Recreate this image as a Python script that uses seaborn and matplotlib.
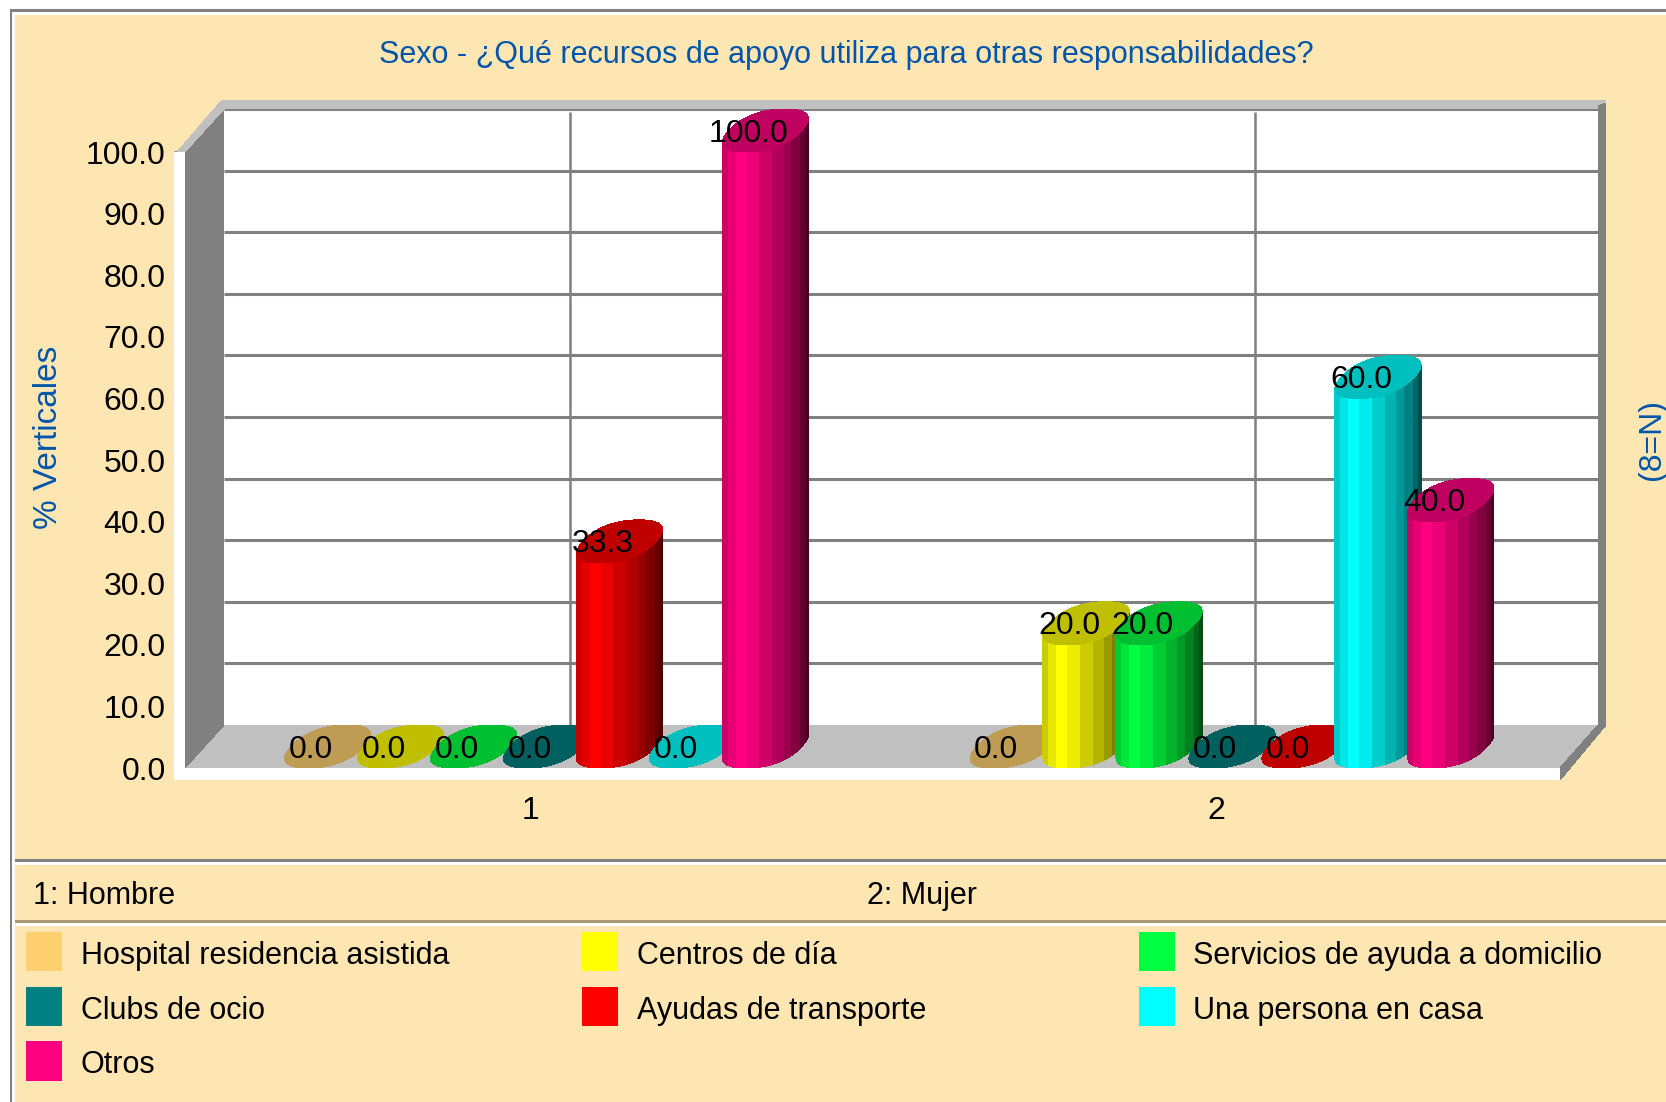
import numpy as np
import pandas as pd
import matplotlib
matplotlib.use("Agg")
import matplotlib.pyplot as plt
from matplotlib.patches import Polygon, Rectangle
from matplotlib.transforms import Affine2D, IdentityTransform
import seaborn as sns

# ---- data ----
groups = ["1", "2"]
group_names = ["1: Hombre", "2: Mujer"]
recursos = ["Hospital residencia asistida", "Centros de día", "Servicios de ayuda a domicilio",
            "Clubs de ocio", "Ayudas de transporte", "Una persona en casa", "Otros"]
hombre = [0.0, 0.0, 0.0, 0.0, 33.3, 0.0, 100.0]
mujer = [0.0, 20.0, 20.0, 0.0, 0.0, 60.0, 40.0]
colores = ["#FFD070", "#FFFF00", "#00FF40", "#008080", "#FF0000", "#00FFFF", "#FF0080"]
y_ticks = [0, 10, 20, 30, 40, 50, 60, 70, 80, 90, 100]
titulo = "Sexo - ¿Qué recursos de apoyo utiliza para otras responsabilidades?"
y_titulo = "% Verticales"
n_titulo = "(8=N)"

W, H = 1666, 1102
BG = "#FEE6B3"
GRAY = "#808080"
SILVER = "#C0C0C0"
BLUE = "#0055AA"
FS = 22

sns.set_theme(style="white")
plt.rcParams["font.family"] = ["Liberation Sans", "DejaVu Sans"]

fig = plt.figure(figsize=(W / 100, H / 100), dpi=100, facecolor="white")

# pixel helper: top-left origin figure pixels
px = Affine2D().scale(1, -1).translate(0, H)
L, R, T, B = 185, 1560, 152, 768
ax = fig.add_axes([L / W, 1 - B / H, (R - L) / W, (B - T) / H])
ax.set_zorder(1)
ax.patch.set_alpha(0)
for s in ax.spines.values():
    s.set_visible(False)


def rect(x0, y0, x1, y1, c, z=0.1):
    fig.add_artist(Rectangle((x0, y0), x1 - x0, y1 - y0, transform=px, fc=c, ec="none",
                             zorder=z, antialiased=False))


def poly(pts, c, z=1.0):
    ax.add_patch(Polygon(pts, closed=True, transform=px, fc=c, ec="none", zorder=z,
                         clip_on=False, antialiased=False))


# frame and panel
rect(15, 15, W, H, BG)
rect(10, 9, W, 12, GRAY)
rect(10, 9, 12, H, GRAY)
rect(15, 859, W, 862, GRAY)
rect(15, 862, W, 865, "white")
rect(15, 920, W, 923, "#A89C78")
rect(15, 923, W, 926, "white")

# 3D box
DX, DY = 39, 43
poly([(224, 109), (1598, 109), (1598, 725), (224, 725)], "white", 1.0)
poly([(185, 768), (1560, 768), (1598, 725), (224, 725)], SILVER, 1.1)
poly([(185, 152), (224, 109), (224, 725), (185, 768)], GRAY, 1.2)
poly([(177, 152), (185, 152), (224, 109), (222, 100)], SILVER, 1.3)
poly([(222, 100), (1606, 100), (1598, 109), (224, 109)], SILVER, 1.3)
poly([(1598, 106), (1606, 103), (1606, 725), (1598, 725)], GRAY, 1.3)
poly([(1598, 725), (1606, 725), (1560, 780), (1560, 768)], GRAY, 1.3)
poly([(174, 152), (185, 152), (185, 780), (174, 780)], "white", 1.4)
poly([(174, 768), (1560, 768), (1560, 780), (174, 780)], "white", 1.4)

# bars through seaborn
df = pd.DataFrame({
    "sexo": np.repeat(groups, len(recursos)),
    "recurso": recursos * len(groups),
    "valor": hombre + mujer,
})
sns.barplot(data=df, x="sexo", y="valor", hue="recurso", hue_order=recursos, palette=colores,
            order=groups, width=0.745, gap=0, dodge=True, saturation=1, legend=False, ax=ax,
            errorbar=None)

UNIT = 685.5
XLIM = (-(530.5 - L) / UNIT, (R - 530.5) / UNIT)
ax.set_xlim(*XLIM)
ax.set_ylim(0, 100)
ax.set_xlabel("")
ax.set_ylabel("")
ax.set_yticks(y_ticks)
ax.set_yticklabels([f"{v:.1f}" for v in y_ticks], fontsize=FS + 1, color="black")
ax.set_xticks(range(len(groups)))
ax.set_xticklabels(groups, fontsize=FS + 1, color="black")
ax.tick_params(axis="y", length=8, width=2.1, color=GRAY, pad=6, left=True)
ax.tick_params(axis="x", length=8.6, width=1.5, color=GRAY, pad=11.5, bottom=True)
for t in ax.get_xticklines() + ax.get_yticklines():
    t.set_zorder(2)

# back wall grid through the same scales
grid_tf = ax.transData + Affine2D().translate(DX, DY)
for v in y_ticks[1:]:
    ax.plot(XLIM, [v, v], color=GRAY, lw=2.2, transform=grid_tf,
            clip_on=False, zorder=1.05, solid_capstyle="butt")
for i in range(len(groups)):
    ax.plot([i, i], [0, 99.5], color=GRAY, lw=1.8, transform=grid_tf, clip_on=False, zorder=1.05,
            solid_capstyle="butt")
ax.set_xlim(*XLIM)
ax.set_ylim(0, 100)

# cylinders: sheared rounded circles in the floor plane
A, Bb, C = 36.5, 19.5, 21.5
OFFX, OFFY = 16.0, 21.5
EXPO = 0.85
bands = [(0, 13, .80), (13, 31, .90), (31, 56, 1.0), (56, 84, .92), (84, 114, .80), (114, 139, .70),
         (139, 156, .60), (156, 177, .50), (177, 188, .40), (188, 194, .30)]
all_t = np.linspace(0, 2 * np.pi, 361)[:-1]
uu = np.sign(np.cos(all_t)) * np.abs(np.cos(all_t)) ** EXPO
vv = np.sign(np.sin(all_t)) * np.abs(np.sin(all_t)) ** EXPO
top_x = A * uu + Bb * vv
top_y = C * vv
RAD = top_x.max()
# lower silhouette: lowest outline point for each horizontal position
grid_u = np.linspace(-RAD, RAD, 173)
closed_x = np.r_[top_x, top_x[0]]
closed_y = np.r_[top_y, top_y[0]]
low_y = np.full_like(grid_u, np.inf)
for x0, x1, y0, y1 in zip(closed_x[:-1], closed_x[1:], closed_y[:-1], closed_y[1:]):
    lo, hi = min(x0, x1), max(x0, x1)
    m = (grid_u >= lo) & (grid_u <= hi)
    if hi > lo:
        low_y[m] = np.minimum(low_y[m], y0 + (y1 - y0) * (grid_u[m] - x0) / (x1 - x0))
low_y[~np.isfinite(low_y)] = top_y[np.argmin(top_x)]

bar_tf = ax.transData + Affine2D().translate(OFFX, OFFY)
fig.canvas.draw()
identity = IdentityTransform()
labels = []
for k, cont in enumerate(ax.containers):
    rgb = np.array(matplotlib.colors.to_rgb(colores[k]))
    for bar in cont:
        z = 3 + k * 0.01
        bar.set_transform(bar_tf)
        bar.set_zorder(z)
        bar.set_clip_on(False)
        xc = bar.get_x() + bar.get_width() / 2
        val = bar.get_height()
        cx, cy_top = bar_tf.transform((xc, val))
        _, cy_bot = bar_tf.transform((xc, 0))
        if val > 0:
            for b0, b1, f in bands:
                u0 = -RAD + 2 * RAD * b0 / 194
                u1 = -RAD + 2 * RAD * b1 / 194
                us = np.linspace(u0, u1, 12)
                low = np.interp(us, grid_u, low_y)
                xs = cx + us
                pts = np.r_[np.c_[xs, cy_bot + low], np.c_[xs[::-1], cy_top + low[::-1]]]
                ax.add_patch(Polygon(pts, closed=True, transform=identity, fc=rgb * f, ec="none",
                                     zorder=z, clip_on=False, antialiased=False))
        ax.add_patch(Polygon(np.c_[cx + top_x, cy_top + top_y], closed=True, transform=identity,
                             fc=rgb * 0.75, ec="none", zorder=z, clip_on=False, antialiased=False))
        labels.append((cx - 17, cy_top - 3, val))

for x, y, val in labels:
    ax.text(x, y, f"{val:.1f}", transform=identity, ha="center", va="center", fontsize=FS + 1,
            color="black", zorder=6, clip_on=False)

# titles
fig.text(846 / W, 1 - 55 / H, titulo, ha="center", va="center", color=BLUE, fontsize=FS)
fig.text(49 / W, 1 - 437 / H, y_titulo, rotation=90, ha="center", va="center", color=BLUE, fontsize=24)
fig.text(1652 / W, 1 - 440 / H, n_titulo, rotation=90, ha="center", va="center", color=BLUE, fontsize=23)

# group key
for name, x in zip(group_names, [33, 867]):
    fig.text(x / W, 1 - 896 / H, name, ha="left", va="center", color="black", fontsize=FS)

# legend
sw_x = [26, 582, 1139]
tx_x = [81, 637, 1193]
sw_y = [(932, 971), (987, 1026), (1041, 1081)]
tx_y = [956, 1011, 1065]
for i, (name, c) in enumerate(zip(recursos, colores)):
    row, col = divmod(i, 3)
    rect(sw_x[col], sw_y[row][0], sw_x[col] + 36, sw_y[row][1], c, 0.2)
    fig.text(tx_x[col] / W, 1 - tx_y[row] / H, name, ha="left", va="center", color="black", fontsize=FS)

fig.savefig("out.png", dpi=100, facecolor="white")
